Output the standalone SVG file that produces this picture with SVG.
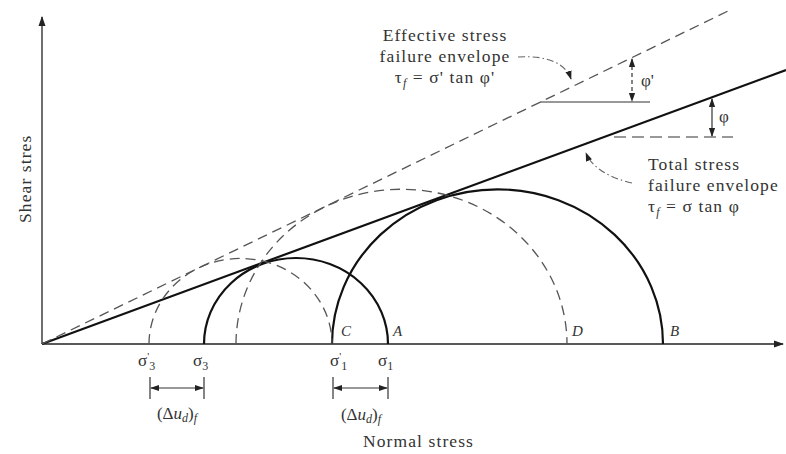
<svg xmlns="http://www.w3.org/2000/svg" width="786" height="454" viewBox="0 0 786 454">
<defs>
<marker id="ah" viewBox="0 0 10 10" refX="9" refY="5" markerWidth="9" markerHeight="9" markerUnits="userSpaceOnUse" orient="auto-start-reverse">
<path d="M0,1.5 L10,5 L0,8.5 Z" fill="#222"/>
</marker>
<marker id="axh" viewBox="0 0 10 10" refX="9" refY="5" markerWidth="10" markerHeight="10" markerUnits="userSpaceOnUse" orient="auto">
<path d="M0,1.5 L10,5 L0,8.5 Z" fill="#222"/>
</marker>
</defs>
<style>
.t{font-family:"Liberation Serif","Times New Roman",serif;fill:#333;font-size:17.5px;letter-spacing:1.1px}
.it{font-family:"Liberation Serif","Times New Roman",serif;fill:#333;font-size:15px;font-style:italic}
.s{font-family:"Liberation Serif","Times New Roman",serif;fill:#333;font-size:17px}
.solid{fill:none;stroke:#111;stroke-width:2.2}
.dash{fill:none;stroke:#555;stroke-width:1.3;stroke-dasharray:10 6}
.axis{fill:none;stroke:#222;stroke-width:1.3}
.thin{fill:none;stroke:#333;stroke-width:1.2}
.dd{fill:none;stroke:#666;stroke-width:1.1;stroke-dasharray:7 3 1.5 3}
</style>
<rect width="786" height="454" fill="#fff"/>
<g id="axes">
<line class="axis" x1="42" y1="344" x2="783" y2="344" marker-end="url(#axh)"/>
<line class="axis" x1="42" y1="344" x2="42" y2="17" marker-end="url(#axh)"/>
<text class="t" transform="translate(31,223) rotate(-90)">Shear stres</text>
<text class="t" x="363" y="447">Normal stress</text>
</g>
<g id="envelopes">
<line class="solid" x1="42" y1="344" x2="786" y2="70"/>
<line class="dash" x1="42" y1="344" x2="728" y2="11"/>
</g>
<g id="circle-total-small"><path class="solid" d="M204,344 A92 86 0 0 1 388,344"/></g>
<g id="circle-total-large"><path class="solid" d="M332,344 A165.5 154.7 0 0 1 663,344"/></g>
<g id="circle-eff-small"><path class="dash" d="M149,344 A91.5 85.6 0 0 1 332,344"/></g>
<g id="circle-eff-large"><path class="dash" d="M236,344 A165.5 154.8 0 0 1 567,344"/></g>
<g id="point-labels">
<text class="it" x="341" y="336">C</text>
<text class="it" x="393" y="336">A</text>
<text class="it" x="572" y="336">D</text>
<text class="it" x="670" y="336">B</text>
<text class="s" x="138" y="366">σ<tspan font-size="11" dy="-6">'</tspan><tspan font-size="12" dy="10">3</tspan></text>
<text class="s" x="193" y="366">σ<tspan font-size="12" dy="4">3</tspan></text>
<text class="s" x="330" y="366">σ<tspan font-size="11" dy="-6">'</tspan><tspan font-size="12" dy="10">1</tspan></text>
<text class="s" x="378" y="366">σ<tspan font-size="12" dy="4">1</tspan></text>
</g>
<g id="dim-3">
<line class="thin" x1="150" y1="377" x2="150" y2="399"/>
<line class="thin" x1="204" y1="377" x2="204" y2="399"/>
<line class="thin" x1="151" y1="388" x2="203" y2="388" marker-start="url(#ah)" marker-end="url(#ah)"/>
<text class="s" x="177" y="419" text-anchor="middle" font-size="16">(Δ<tspan font-style="italic">u</tspan><tspan font-style="italic" font-size="12" dy="3">d</tspan><tspan dy="-3">)</tspan><tspan font-style="italic" font-size="12" dy="3">f</tspan></text>
</g>
<g id="dim-1">
<line class="thin" x1="333" y1="377" x2="333" y2="399"/>
<line class="thin" x1="388" y1="377" x2="388" y2="399"/>
<line class="thin" x1="334" y1="388" x2="387" y2="388" marker-start="url(#ah)" marker-end="url(#ah)"/>
<text class="s" x="361" y="420" text-anchor="middle" font-size="16">(Δ<tspan font-style="italic">u</tspan><tspan font-style="italic" font-size="12" dy="3">d</tspan><tspan dy="-3">)</tspan><tspan font-style="italic" font-size="12" dy="3">f</tspan></text>
</g>
<g id="label-effective">
<text class="t" x="445" y="41" text-anchor="middle">Effective stress</text>
<text class="t" x="445" y="62" text-anchor="middle">failure envelope</text>
<text class="t" x="445" y="83" text-anchor="middle">τ<tspan font-size="12" font-style="italic" dy="4">f</tspan><tspan dy="-4"> = σ' tan φ'</tspan></text>
</g>
<g id="label-total">
<text class="t" x="648" y="170">Total stress</text>
<text class="t" x="648" y="191">failure envelope</text>
<text class="t" x="648" y="212">τ<tspan font-size="12" font-style="italic" dy="4">f</tspan><tspan dy="-4"> = σ tan φ</tspan></text>
</g>
<g id="connectors">
<path class="dd" d="M518,57 C548,55 566,64 571,79" marker-end="url(#ah)"/>
<path class="dd" d="M632,183 C610,178 592,168 586,153" marker-end="url(#ah)"/>
<line class="thin" x1="540" y1="102" x2="650" y2="102"/>
<line class="thin" x1="632" y1="59" x2="632" y2="101" stroke-dasharray="4 3" marker-start="url(#ah)" marker-end="url(#ah)"/>
<text class="s" x="641" y="86">φ'</text>
<line class="thin" x1="614" y1="137" x2="733" y2="137" stroke-dasharray="12 6"/>
<line class="thin" x1="712" y1="99" x2="712" y2="136" marker-start="url(#ah)" marker-end="url(#ah)"/>
<text class="s" x="719" y="122">φ</text>
</g>
</svg>
